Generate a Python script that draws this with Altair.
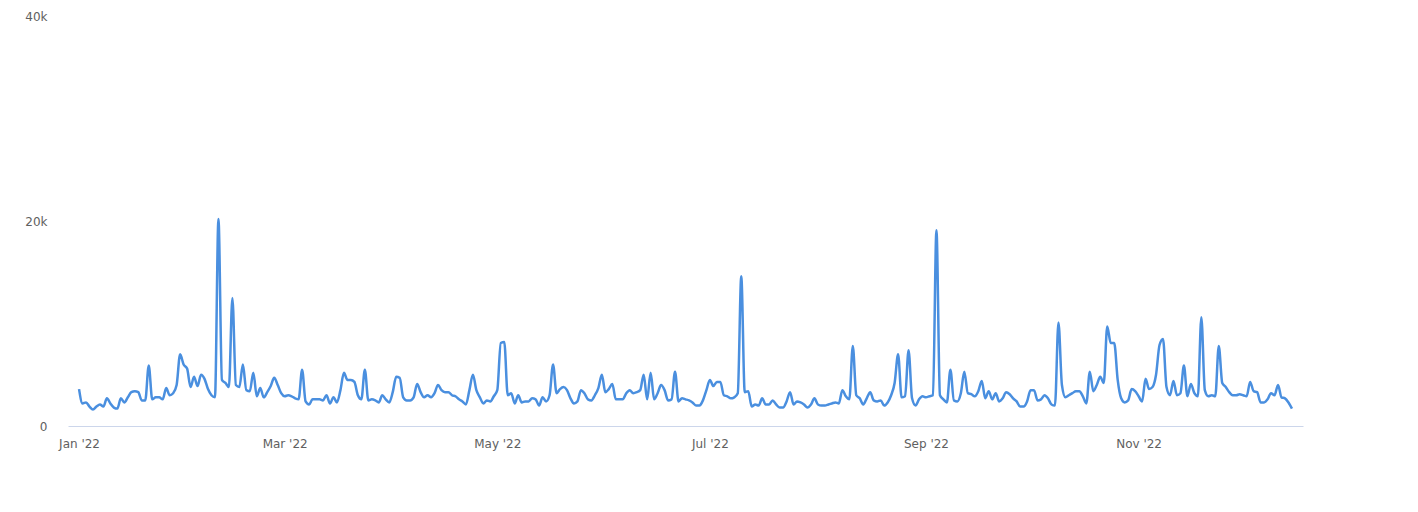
import altair as alt
import pandas as pd

# Daily values (thousands), Jan 1 - Dec 15 2022
jan = [3.6, 2.2, 2.3, 1.9, 1.6, 1.9, 2.1, 1.9, 2.7, 2.2, 1.8, 1.7, 2.7, 2.3, 2.8, 3.3,
       3.4, 3.3, 2.5, 2.5, 5.9, 2.6, 2.8, 2.8, 2.6, 3.7, 3.0, 3.2, 4.0, 7.0, 6.0]
feb = [5.6, 3.8, 4.8, 3.9, 5.0, 4.6, 3.6, 3.0, 2.8, 20.2, 4.5, 4.2, 3.8, 12.5, 4.0,
       3.8, 6.0, 3.5, 3.4, 5.2, 2.9, 3.7, 2.8, 3.3, 3.9, 4.7, 4.0, 3.2]
mar = [2.9, 3.0, 2.9, 2.7, 2.6, 5.5, 2.4, 2.1, 2.6, 2.6, 2.6, 2.5, 3.0, 2.2, 2.8, 2.3,
       3.5, 5.2, 4.5, 4.5, 4.3, 3.0, 2.6, 5.5, 2.5, 2.6, 2.5, 2.3, 3.0, 2.6, 2.3]
apr = [3.3, 4.8, 4.7, 2.8, 2.5, 2.5, 2.8, 4.1, 3.3, 2.8, 3.0, 2.8, 3.2, 4.0, 3.5, 3.3,
       3.3, 3.0, 2.9, 2.6, 2.4, 2.1, 3.5, 5.0, 3.5, 2.8, 2.2, 2.5, 2.4, 2.9]
may = [3.5, 8.1, 8.2, 3.0, 3.2, 2.2, 3.0, 2.3, 2.4, 2.4, 2.7, 2.6, 2.0, 2.8, 2.4, 3.0,
       6.0, 3.2, 3.6, 3.8, 3.5, 2.7, 2.2, 2.4, 3.5, 3.2, 2.6, 2.5, 3.0, 3.7, 5.0]
jun = [3.3, 3.6, 4.1, 2.6, 2.6, 2.6, 3.2, 3.5, 3.2, 3.3, 3.5, 5.0, 2.6, 5.2, 2.6, 3.2,
       4.0, 3.5, 2.5, 2.6, 5.3, 2.4, 2.7, 2.6, 2.5, 2.3, 2.0, 2.0, 2.5, 3.5]
jul = [4.5, 3.9, 4.3, 4.3, 3.0, 2.9, 2.7, 2.8, 3.2, 14.6, 3.3, 3.4, 1.9, 2.1, 2.0, 2.7,
       2.1, 2.1, 2.5, 2.1, 1.8, 1.8, 2.4, 3.3, 2.1, 2.4, 2.3, 2.1, 1.8, 2.1, 2.7]
aug = [2.1, 2.0, 2.0, 2.1, 2.2, 2.3, 2.2, 3.5, 2.9, 2.6, 7.8, 3.0, 2.7, 2.1, 2.7, 3.3,
       2.5, 2.4, 2.5, 2.0, 2.3, 3.0, 4.2, 7.0, 2.8, 2.9, 7.4, 2.7, 2.0, 2.6, 2.9]
sep = [2.8, 2.9, 3.0, 19.1, 3.0, 2.6, 2.3, 5.5, 2.5, 2.4, 3.2, 5.3, 3.2, 3.1, 2.9, 3.4,
       4.4, 2.7, 3.4, 2.6, 3.2, 2.4, 2.7, 3.3, 3.1, 2.7, 2.4, 1.9, 1.9, 2.4]
oct_ = [3.5, 3.5, 2.5, 2.6, 3.0, 2.7, 2.1, 2.0, 10.1, 4.0, 2.8, 3.0, 3.2, 3.4, 3.4, 2.9,
        2.2, 5.3, 3.4, 4.0, 4.8, 4.2, 9.7, 8.1, 8.1, 4.5, 2.7, 2.3, 2.5, 3.6, 3.4]
nov = [2.9, 2.4, 4.6, 3.6, 3.8, 5.0, 7.9, 8.5, 3.8, 3.0, 4.4, 3.0, 3.2, 5.9, 2.9, 4.1,
       3.2, 2.9, 10.6, 3.5, 2.9, 3.0, 2.9, 7.8, 4.2, 3.8, 3.3, 3.0, 3.0, 3.1]
dec = [3.0, 2.9, 4.3, 3.4, 3.3, 2.3, 2.3, 2.6, 3.2, 3.0, 4.0, 2.8, 2.7, 2.3, 1.7]

values_k = jan + feb + mar + apr + may + jun + jul + aug + sep + oct_ + nov + dec
dates = pd.date_range("2022-01-01", periods=len(values_k), freq="D")

df = pd.DataFrame({
    "date": dates.strftime("%Y-%m-%dT00:00:00"),
    "value": [v * 1000 for v in values_k],
})

y_ticks = [0, 20000, 40000]
x_ticks = [alt.DateTime(year=2022, month=m, date=1) for m in [1, 3, 5, 7, 9, 11]]

font = "DejaVu Sans"

chart = alt.Chart(df).mark_line(
    color="#4a8fdf", strokeWidth=2.5, interpolate="monotone"
).encode(
    x=alt.X(
        "date:T",
        scale=alt.Scale(domain=[
            alt.DateTime(year=2021, month=12, date=28, hours=20),
            alt.DateTime(year=2022, month=12, date=18, hours=4),
        ]),
        axis=alt.Axis(
            title=None, values=x_ticks, format="%b '%y", grid=False,
            ticks=False, domainColor="#ccd6eb", domainWidth=1,
            labelColor="#606060", labelFont=font, labelFontSize=12,
            labelPadding=12, labelFlush=False,
        ),
    ),
    y=alt.Y(
        "value:Q",
        scale=alt.Scale(domain=[0, 40000], nice=False),
        axis=alt.Axis(
            title=None, values=y_ticks, grid=False, domain=False, ticks=False,
            labelExpr="datum.value == 0 ? '0' : (datum.value / 1000) + 'k'",
            labelColor="#606060", labelFont=font, labelFontSize=12,
            labelPadding=21,
        ),
    ),
).properties(
    width=1235, height=410,
    padding={"left": 16, "top": 2, "right": 5, "bottom": 5},
).configure_view(stroke=None)

chart.save("out.html", embed_options={"renderer": "svg", "actions": False})
